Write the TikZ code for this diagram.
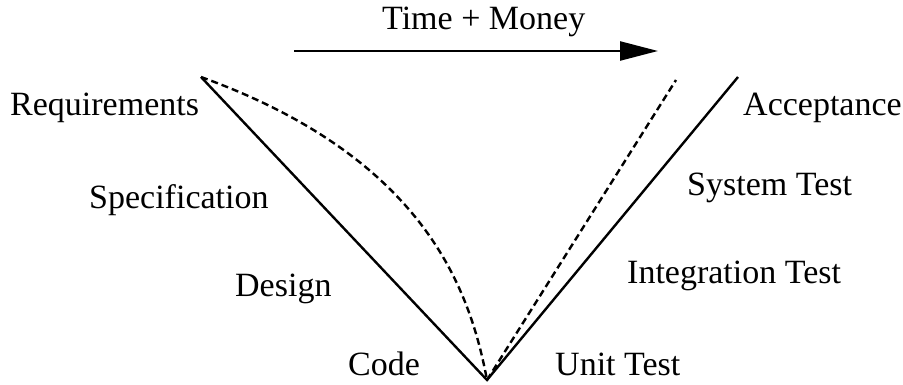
\documentclass[tikz,border=0pt]{standalone}
\usepackage{fontspec}
\setmainfont{Liberation Serif}
\usetikzlibrary{arrows.meta}
\begin{document}
\begin{tikzpicture}[x=1pt,y=-1pt,
  lbl/.style={anchor=base west,inner sep=0pt,font=\fontsize{34}{40}\selectfont},
  vline/.style={line width=2.4pt,line join=miter},
  dline/.style={line width=2.4pt,dash pattern=on 7pt off 4pt}]
\useasboundingbox (0,0) rectangle (903,385);
\coordinate (lt) at (201,77);
\coordinate (bot) at (487,380);
\coordinate (rt) at (738,77);
\coordinate (dt) at (676,80);
\coordinate (as) at (294,51);
\coordinate (ae) at (658,51);
\draw[vline] (lt) -- (bot) -- (rt);
\draw[dline] (lt) .. controls (425,158) and (470,290) .. (bot);
\draw[dline] (bot) -- (dt);
\draw[line width=2.4pt,-{Triangle[length=38pt,width=19pt]}] (as) -- (ae);
\node[lbl] (tm) at (382,30) {Time + Money};
\node[lbl] (req) at (10,116) {Requirements};
\node[lbl] (spec) at (89,209) {Specification};
\node[lbl] (des) at (235,296) {Design};
\node[lbl] (code) at (348,375) {Code};
\node[lbl] (acc) at (743,116) {Acceptance};
\node[lbl] (sys) at (687,196) {System Test};
\node[lbl] (int) at (627,283) {Integration Test};
\node[lbl] (unit) at (555,375) {Unit Test};
\end{tikzpicture}
\end{document}
